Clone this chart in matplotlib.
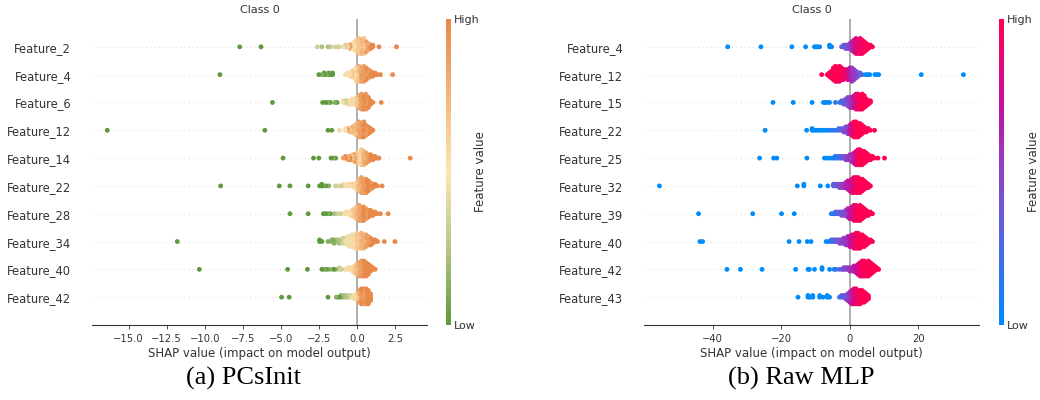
import numpy as np
import matplotlib
matplotlib.use("Agg")
import matplotlib.pyplot as plt
from matplotlib.colors import LinearSegmentedColormap
from matplotlib.cm import ScalarMappable

# each row: (shap value, number of samples at that value, feature value 0..9)

# ---- (a) PCsInit ----
feat_a = ["Feature_2", "Feature_4", "Feature_6", "Feature_12", "Feature_14",
          "Feature_22", "Feature_28", "Feature_34", "Feature_40", "Feature_42"]

a_f2 = [(-7.7, 1, 0), (-6.3, 1, 0), (-2.6, 1, 3), (-2.3, 1, 2), (-1.9, 1, 2),
        (-1.7, 1, 3), (-1.4, 1, 3), (-1.2, 1, 3),
        (-0.9, 1, 4), (-0.75, 2, 3), (-0.6, 2, 5), (-0.45, 3, 8), (-0.3, 4, 5),
        (-0.15, 6, 5), (0.0, 8, 6), (0.15, 10, 6), (0.3, 9, 7), (0.45, 10, 6),
        (0.6, 7, 8), (0.75, 5, 7), (0.9, 3, 9), (1.05, 2, 9), (1.45, 1, 9),
        (2.6, 1, 9)]
a_f4 = [(-9.0, 1, 0), (-2.5, 1, 0), (-2.3, 1, 1), (-2.15, 2, 0), (-2.0, 1, 1),
        (-1.85, 2, 0), (-1.7, 1, 1), (-1.6, 2, 0),
        (-0.75, 1, 4), (-0.6, 2, 5), (-0.45, 3, 5), (-0.3, 4, 6), (-0.15, 6, 5),
        (0.0, 9, 6), (0.15, 10, 7), (0.3, 9, 8), (0.45, 10, 8), (0.6, 8, 9),
        (0.75, 6, 8), (0.9, 4, 9), (1.05, 3, 9), (1.2, 2, 9), (1.35, 1, 9),
        (1.55, 1, 9), (2.35, 1, 9)]
a_f6 = [(-5.55, 1, 0), (-2.25, 1, 0), (-2.05, 1, 0), (-1.9, 1, 1), (-1.75, 1, 0),
        (-1.45, 1, 1), (-1.3, 1, 0),
        (-0.9, 2, 4), (-0.75, 2, 3), (-0.6, 3, 4), (-0.45, 3, 5), (-0.3, 4, 4),
        (-0.15, 4, 5), (0.0, 6, 6), (0.15, 8, 8), (0.3, 10, 8), (0.45, 9, 9),
        (0.6, 10, 8), (0.75, 7, 9), (0.9, 3, 9), (1.05, 1, 9), (1.6, 1, 9)]
a_f12 = [(-16.4, 1, 0), (-6.05, 1, 0), (-1.9, 1, 0), (-1.65, 1, 0), (-1.15, 1, 4),
         (-0.75, 2, 5), (-0.6, 2, 8), (-0.45, 3, 6), (-0.3, 4, 7), (-0.15, 6, 6),
         (0.0, 8, 7), (0.15, 10, 8), (0.3, 9, 8), (0.45, 10, 9), (0.6, 7, 8),
         (0.75, 5, 9), (0.9, 3, 9), (1.05, 1, 9)]
a_f14 = [(-4.85, 1, 0), (-2.85, 1, 0), (-2.5, 1, 0), (-1.7, 1, 0), (-1.55, 1, 1),
         (-1.4, 1, 0),
         (-0.9, 1, 8), (-0.75, 2, 9), (-0.6, 3, 7), (-0.45, 3, 9), (-0.3, 4, 6),
         (-0.15, 5, 8), (0.0, 7, 6), (0.15, 8, 5), (0.3, 10, 6), (0.45, 9, 7),
         (0.6, 7, 8), (0.75, 5, 8), (0.9, 4, 9), (1.05, 3, 9), (1.2, 2, 9),
         (1.35, 1, 9), (1.45, 1, 9), (3.5, 1, 9)]
a_f22 = [(-8.95, 1, 0), (-5.1, 1, 0), (-4.4, 1, 0), (-3.2, 1, 0), (-2.45, 1, 0),
         (-2.3, 2, 0), (-2.2, 1, 1), (-2.05, 1, 0), (-1.85, 1, 1),
         (-1.4, 1, 3), (-1.2, 1, 4), (-1.05, 1, 3), (-0.9, 2, 5), (-0.75, 1, 4),
         (-0.6, 2, 5), (-0.45, 2, 5), (-0.3, 2, 6), (-0.15, 3, 5), (0.0, 5, 6),
         (0.15, 8, 7), (0.3, 10, 8), (0.45, 9, 8), (0.6, 9, 9), (0.75, 7, 9),
         (0.9, 5, 8), (1.05, 3, 9), (1.2, 2, 9), (1.35, 1, 9), (1.65, 1, 9)]
a_f28 = [(-4.4, 1, 0), (-3.2, 1, 0), (-2.2, 1, 0), (-2.05, 1, 0), (-1.9, 1, 1),
         (-1.75, 1, 0), (-1.5, 1, 2), (-1.3, 1, 3), (-1.1, 1, 3), (-0.9, 1, 4),
         (-0.75, 2, 4), (-0.6, 2, 5), (-0.45, 3, 5), (-0.3, 4, 6), (-0.15, 6, 6),
         (0.0, 8, 7), (0.15, 10, 8), (0.3, 9, 8), (0.45, 9, 9), (0.6, 7, 8),
         (0.75, 5, 9), (0.9, 4, 9), (1.05, 3, 9), (1.2, 2, 9), (1.35, 1, 9),
         (1.55, 1, 9), (2.05, 1, 9)]
a_f34 = [(-11.8, 1, 0), (-2.45, 2, 0), (-2.3, 1, 0), (-1.9, 1, 1),
         (-1.65, 2, 1), (-1.5, 3, 1), (-1.35, 2, 2), (-1.2, 3, 2), (-1.05, 3, 3),
         (-0.9, 4, 3), (-0.75, 4, 4), (-0.6, 6, 4), (-0.45, 7, 5), (-0.3, 8, 4),
         (-0.15, 9, 5), (0.0, 10, 6), (0.15, 9, 6), (0.3, 10, 7), (0.45, 9, 7),
         (0.6, 8, 8), (0.75, 6, 8), (0.9, 5, 9), (1.05, 3, 9), (1.2, 2, 9),
         (1.35, 1, 9), (1.8, 1, 9), (2.5, 1, 9)]
a_f40 = [(-10.35, 1, 0), (-4.55, 1, 0), (-3.25, 1, 0), (-2.3, 1, 0), (-2.15, 1, 1),
         (-2.0, 1, 0), (-1.8, 1, 1), (-1.55, 1, 0), (-1.4, 1, 1), (-1.15, 2, 3),
         (-1.0, 1, 3),
         (-0.75, 1, 4), (-0.6, 2, 4), (-0.45, 2, 5), (-0.3, 3, 5), (-0.15, 5, 6),
         (0.0, 7, 7), (0.15, 9, 8), (0.3, 10, 8), (0.45, 10, 9), (0.6, 9, 9),
         (0.75, 7, 9), (0.9, 4, 9), (1.05, 2, 9), (1.2, 1, 9)]
a_f42 = [(-4.95, 1, 0), (-4.45, 1, 0), (-1.9, 1, 0),
         (-1.35, 1, 1), (-1.2, 1, 0), (-1.05, 2, 1), (-0.9, 2, 2), (-0.75, 2, 2),
         (-0.6, 2, 3), (-0.45, 2, 3), (-0.3, 2, 4), (-0.15, 3, 5), (0.0, 4, 6),
         (0.15, 8, 8), (0.3, 10, 9), (0.45, 10, 8), (0.6, 10, 9), (0.75, 9, 9),
         (0.9, 5, 9)]
rows_a = [a_f2, a_f4, a_f6, a_f12, a_f14, a_f22, a_f28, a_f34, a_f40, a_f42]
ticks_a = [-15.0, -12.5, -10.0, -7.5, -5.0, -2.5, 0.0, 2.5]

# ---- (b) Raw MLP ----
feat_b = ["Feature_4", "Feature_12", "Feature_15", "Feature_22", "Feature_25",
          "Feature_32", "Feature_39", "Feature_40", "Feature_42", "Feature_43"]

b_f4 = [(-35.6, 1, 0), (-25.9, 1, 0), (-16.9, 1, 0), (-12.9, 1, 0), (-10.3, 1, 0),
        (-9.8, 1, 0), (-9.3, 1, 0), (-8.8, 1, 0), (-5.9, 2, 0), (-5.3, 1, 1),
        (-2.4, 1, 3), (-1.8, 2, 3), (-1.2, 3, 4), (-0.6, 3, 4), (0.0, 4, 5),
        (0.6, 6, 6), (1.2, 8, 7), (1.8, 10, 8), (2.4, 9, 9), (3.0, 10, 8),
        (3.6, 9, 9), (4.2, 7, 9), (4.8, 5, 9), (5.4, 3, 9), (6.0, 2, 9),
        (6.6, 1, 9)]
b_f12 = [(-8.2, 1, 9), (-6.6, 1, 9), (-6.0, 3, 9), (-5.4, 5, 9), (-4.8, 8, 9),
         (-4.2, 10, 9), (-3.6, 9, 9), (-3.0, 10, 9), (-2.4, 8, 9), (-1.8, 7, 8),
         (-1.2, 6, 8), (-0.6, 7, 7), (0.0, 8, 6), (0.6, 9, 5), (1.2, 7, 5),
         (1.8, 5, 4), (2.4, 3, 3), (3.0, 2, 3), (3.6, 1, 2), (4.6, 1, 0),
         (5.2, 1, 0), (5.8, 1, 0), (7.3, 1, 0), (7.8, 1, 0), (8.4, 1, 0),
         (20.8, 1, 0), (33.1, 1, 0)]
b_f15 = [(-22.4, 1, 0), (-16.5, 1, 0), (-11.0, 1, 0), (-7.7, 1, 0), (-7.2, 1, 0),
         (-6.6, 1, 0), (-5.9, 1, 0), (-4.2, 1, 1),
         (-3.0, 1, 2), (-2.4, 2, 3), (-1.8, 3, 3), (-1.2, 4, 4), (-0.6, 6, 4),
         (0.0, 7, 5), (0.6, 7, 6), (1.2, 8, 7), (1.8, 10, 8), (2.4, 10, 9),
         (3.0, 9, 9), (3.6, 10, 9), (4.2, 8, 9), (4.8, 5, 9), (5.4, 3, 9),
         (6.0, 2, 9)]
b_f22 = [(-24.7, 1, 0), (-12.6, 1, 0), (-11.0, 2, 0), (-10.4, 1, 0), (-9.8, 1, 0),
         (-9.1, 1, 0), (-8.4, 1, 0), (-7.7, 1, 0), (-7.0, 1, 0), (-6.3, 1, 1),
         (-5.5, 1, 1), (-4.8, 1, 1), (-4.0, 1, 2), (-3.2, 2, 2),
         (-2.4, 2, 3), (-1.8, 3, 4), (-1.2, 4, 4), (-0.6, 5, 5), (0.0, 6, 7),
         (0.6, 8, 8), (1.2, 10, 9), (1.8, 10, 9), (2.4, 9, 9), (3.0, 8, 9),
         (3.6, 6, 9), (4.2, 4, 9), (4.8, 3, 9), (5.4, 2, 9), (6.0, 1, 9),
         (7.2, 1, 9)]
b_f25 = [(-26.3, 1, 0), (-22.2, 1, 0), (-21.3, 1, 0), (-12.5, 1, 0), (-7.4, 1, 0),
         (-6.6, 1, 0), (-5.8, 1, 0), (-5.0, 1, 1), (-4.3, 2, 1), (-3.6, 2, 2),
         (-3.0, 2, 2), (-2.4, 2, 3), (-1.8, 2, 4), (-1.2, 3, 4), (-0.6, 3, 5),
         (0.0, 4, 5), (0.6, 5, 6), (1.2, 7, 7), (1.8, 9, 8), (2.4, 10, 9),
         (3.0, 10, 9), (3.6, 9, 9), (4.2, 8, 9), (4.8, 6, 9), (5.4, 4, 9),
         (6.0, 3, 9), (6.6, 2, 9), (7.2, 1, 9), (8.2, 1, 9), (10.1, 1, 9)]
b_f32 = [(-55.5, 1, 0), (-15.3, 1, 0), (-13.4, 2, 0), (-8.6, 1, 0), (-6.4, 1, 0),
         (-4.8, 2, 3), (-4.2, 2, 3), (-3.6, 2, 4), (-3.0, 3, 4), (-2.4, 3, 5),
         (-1.8, 3, 5), (-1.2, 4, 6), (-0.6, 6, 6), (0.0, 7, 7), (0.6, 9, 8),
         (1.2, 10, 8), (1.8, 10, 9), (2.4, 10, 9), (3.0, 9, 9), (3.6, 8, 9),
         (4.2, 6, 9), (4.8, 4, 9), (5.4, 3, 9), (6.0, 1, 9)]
b_f39 = [(-44.1, 1, 0), (-28.3, 1, 0), (-19.9, 1, 0), (-16.2, 1, 0),
         (-5.4, 1, 1), (-4.8, 1, 2), (-4.2, 2, 2), (-3.6, 2, 3), (-3.0, 2, 3),
         (-2.4, 3, 4), (-1.8, 3, 4), (-1.2, 4, 5), (-0.6, 6, 6), (0.0, 7, 7),
         (0.6, 8, 7), (1.2, 10, 8), (1.8, 10, 9), (2.4, 9, 9), (3.0, 10, 9),
         (3.6, 8, 9), (4.2, 6, 9), (4.8, 4, 9), (5.4, 3, 9), (6.0, 2, 9),
         (6.6, 1, 9)]
b_f40 = [(-43.7, 1, 0), (-42.9, 1, 0), (-17.7, 1, 0), (-14.8, 1, 0), (-12.4, 1, 0),
         (-11.3, 1, 0), (-6.9, 1, 0), (-6.2, 1, 1), (-5.4, 2, 2), (-4.7, 2, 3),
         (-4.2, 2, 3), (-3.6, 2, 4), (-3.0, 3, 4), (-2.4, 3, 4), (-1.8, 4, 5),
         (-1.2, 5, 5), (-0.6, 6, 6), (0.0, 7, 7), (0.6, 8, 7), (1.2, 9, 8),
         (1.8, 10, 9), (2.4, 10, 9), (3.0, 9, 9), (3.6, 8, 9), (4.2, 7, 9),
         (4.8, 5, 9), (5.4, 3, 9), (6.0, 2, 9), (6.6, 1, 9)]
b_f42 = [(-35.8, 1, 0), (-31.9, 1, 0), (-25.6, 1, 0), (-15.8, 1, 0), (-12.2, 1, 0),
         (-11.8, 1, 0), (-10.3, 1, 0), (-8.1, 2, 0), (-5.9, 1, 0), (-4.6, 1, 1),
         (-4.0, 1, 2), (-3.0, 1, 3), (-2.2, 1, 3),
         (-1.8, 2, 4), (-1.2, 2, 4), (-0.6, 2, 5), (0.0, 3, 5), (0.6, 3, 6),
         (1.2, 4, 6), (1.8, 5, 7), (2.4, 7, 8), (3.0, 9, 8), (3.6, 10, 9),
         (4.2, 10, 9), (4.8, 9, 9), (5.4, 10, 9), (6.0, 8, 9), (6.6, 6, 9),
         (7.2, 4, 9), (7.8, 2, 9), (8.4, 1, 9)]
b_f43 = [(-15.1, 1, 0), (-12.2, 2, 0), (-11.6, 1, 0), (-10.8, 2, 0), (-8.8, 2, 0),
         (-7.8, 1, 0), (-6.6, 2, 0), (-5.9, 1, 0), (-3.0, 1, 1),
         (-2.4, 2, 3), (-1.8, 2, 3), (-1.2, 3, 4), (-0.6, 5, 5), (0.0, 7, 6),
         (0.6, 9, 7), (1.2, 10, 8), (1.8, 10, 8), (2.4, 9, 9), (3.0, 9, 9),
         (3.6, 8, 9), (4.2, 7, 9), (4.8, 5, 9), (5.4, 3, 9)]
rows_b = [b_f4, b_f12, b_f15, b_f22, b_f25, b_f32, b_f39, b_f40, b_f42, b_f43]
ticks_b = [-40, -20, 0, 20]

#colormaps
cmap_a = LinearSegmentedColormap.from_list(
    "green_orange", ["#5e9a3b", "#b7c58a", "#fde5b3", "#f2b67c", "#e8894a"])
cmap_b = LinearSegmentedColormap.from_list(
    "shap_red_blue", [(0.0, "#008bfb"), (0.3, "#5a62e0"), (0.5, "#8c45c6"),
                      (0.72, "#c20fa0"), (1.0, "#ff0052")])


def expand(row, row_height=0.4):
    # stack the samples of one value above/below the row like shap's beeswarm
    xs, ys, cs = [], [], []
    for val, n, fv in row:
        for k in range(n):
            xs.append(val)
            ys.append(np.ceil(k / 2) * ((k % 2) * 2 - 1))
            cs.append(fv / 9.0)
    ys = np.array(ys)
    ys *= 0.9 * (row_height / np.max(ys + 1))
    return np.array(xs), ys, np.array(cs)


def beeswarm(ax, cax, names, rows, cmap, xticks, xlim):
    n = len(names)
    for i, row in enumerate(rows):
        pos = n - 1 - i
        ax.axhline(y=pos, color="#cccccc", lw=0.6, dashes=(1, 4), zorder=-1)
        xs, ys, cs = expand(row)
        order = np.argsort(np.abs(ys))[::-1]
        ax.scatter(xs[order], pos + ys[order], c=cs[order], cmap=cmap,
                   vmin=0, vmax=1, s=12, linewidth=0, alpha=1, zorder=3)
    ax.axvline(x=0, color="#999999", lw=1.1, zorder=-1)

    ax.set_yticks(range(n))
    ax.set_yticklabels(names[::-1], fontsize=8.3, color="#333333")
    ax.set_ylim(-1, n)
    ax.set_xlim(*xlim)
    ax.set_xticks(xticks)
    ax.tick_params(axis="y", length=0, pad=15)
    ax.tick_params(axis="x", labelsize=7.2, colors="#333333", length=3, width=0.6)
    for side in ["top", "right", "left"]:
        ax.spines[side].set_visible(False)
    ax.spines["bottom"].set_color("#333333")
    ax.set_xlabel("SHAP value (impact on model output)", fontsize=8.5, color="#333333", labelpad=2)
    ax.set_title("Class 0", fontsize=8, color="#333333", pad=4)

    sm = ScalarMappable(cmap=cmap)
    sm.set_array([0, 1])
    cb = plt.colorbar(sm, cax=cax, ticks=[0, 1])
    cb.set_ticklabels(["Low", "High"])
    cb.ax.tick_params(labelsize=8, length=0, pad=2, colors="#333333")
    cb.set_label("Feature value", fontsize=8.5, color="#333333", labelpad=-4)
    cb.outline.set_visible(False)


fig = plt.figure(figsize=(10.4, 4.0), dpi=100)

ax_a = fig.add_axes([0.0885, 0.1875, 0.322, 0.765])
cax_a = fig.add_axes([0.4288, 0.1875, 0.0048, 0.765])
ax_b = fig.add_axes([0.6192, 0.1875, 0.322, 0.765])
cax_b = fig.add_axes([0.9606, 0.1875, 0.0048, 0.765])

beeswarm(ax_a, cax_a, feat_a, rows_a, cmap_a, ticks_a, (-17.4, 4.6))
ax_a.set_xticklabels([f"{t:.1f}".replace("-", "\u2212") for t in ticks_a])
beeswarm(ax_b, cax_b, feat_b, rows_b, cmap_b, ticks_b, (-60.0, 37.6))

#captions
fig.text(0.234, 0.055, "(a) PCsInit", family="Liberation Serif", fontsize=19,
         ha="center", va="center")
fig.text(0.770, 0.055, "(b) Raw MLP", family="Liberation Serif", fontsize=19,
         ha="center", va="center")

plt.savefig("out.png", dpi=100)
plt.close()
